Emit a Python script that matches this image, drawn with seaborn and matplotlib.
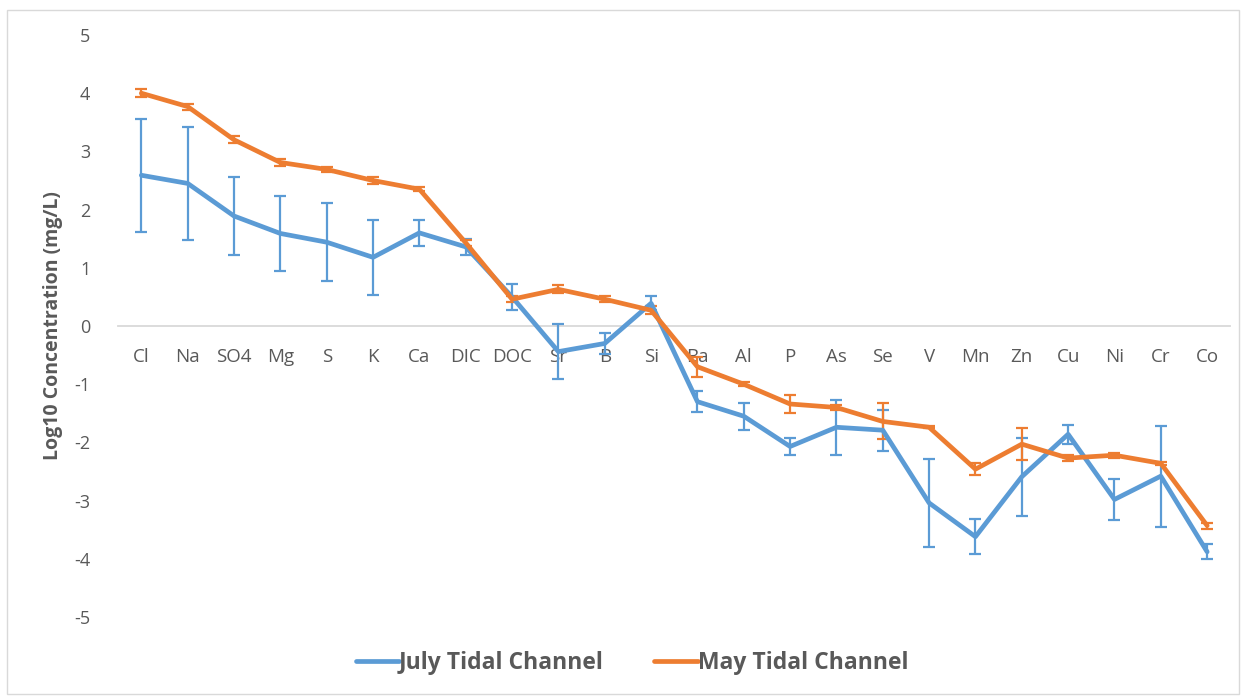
import numpy as np
import pandas as pd
import matplotlib
matplotlib.use("Agg")
import matplotlib.pyplot as plt
import seaborn as sns

# Analytes in order of decreasing concentration
elements = ["Cl", "Na", "SO4", "Mg", "S", "K", "Ca", "DIC", "DOC", "Sr", "B", "Si",
            "Ba", "Al", "P", "As", "Se", "V", "Mn", "Zn", "Cu", "Ni", "Cr", "Co"]

# Log10 mean concentrations (mg/L) and error-bar half widths
july_mean = [2.59, 2.45, 1.89, 1.59, 1.44, 1.18, 1.60, 1.36, 0.50, -0.44, -0.30, 0.39,
             -1.30, -1.55, -2.07, -1.74, -1.79, -3.04, -3.62, -2.59, -1.86, -2.98, -2.58, -3.88]
july_err = [0.97, 0.97, 0.67, 0.65, 0.67, 0.64, 0.22, 0.14, 0.22, 0.47, 0.18, 0.12,
            0.18, 0.23, 0.15, 0.47, 0.35, 0.76, 0.30, 0.67, 0.16, 0.35, 0.87, 0.13]
may_mean = [4.00, 3.77, 3.20, 2.81, 2.69, 2.50, 2.35, 1.43, 0.46, 0.63, 0.46, 0.27,
            -0.70, -1.00, -1.34, -1.40, -1.64, -1.74, -2.46, -2.03, -2.27, -2.22, -2.36, -3.43]
may_err = [0.07, 0.05, 0.06, 0.06, 0.05, 0.06, 0.03, 0.05, 0.05, 0.07, 0.05, 0.07,
           0.17, 0.03, 0.16, 0.05, 0.31, 0.02, 0.10, 0.27, 0.05, 0.04, 0.02, 0.05]

series_names = ["July Tidal Channel", "May Tidal Channel"]
colors = {"July Tidal Channel": "#5B9BD5", "May Tidal Channel": "#ED7D31"}

pos = np.arange(len(elements))
df = pd.concat([
    pd.DataFrame({"pos": pos, "value": july_mean, "err": july_err, "series": series_names[0]}),
    pd.DataFrame({"pos": pos, "value": may_mean, "err": may_err, "series": series_names[1]}),
], ignore_index=True)

sns.set_theme(style="white")
plt.rcParams["font.family"] = ["Open Sans", "DejaVu Sans"]
plt.rcParams["axes.unicode_minus"] = False

fig = plt.figure(figsize=(12.44, 6.96), dpi=100)
ax = fig.add_axes([0.095, 0.1135, 0.894, 0.8362])

# Error bars first so the lines sit on top
for name in series_names:
    sub = df[df["series"] == name]
    ax.errorbar(sub["pos"], sub["value"], yerr=sub["err"], fmt="none",
                ecolor=colors[name], elinewidth=1.6, capsize=4, capthick=1.6, zorder=2)

sns.lineplot(data=df, x="pos", y="value", hue="series", palette=colors,
             linewidth=3.4, sort=False, ax=ax, zorder=3)

ax.set_xlim(-0.5, len(elements) - 0.5)
ax.set_ylim(-5, 5)
ax.set_yticks(range(-5, 6))
ax.set_xticks(pos)
ax.set_xticklabels(elements)

for side in ["top", "right", "left"]:
    ax.spines[side].set_visible(False)
ax.spines["bottom"].set_position(("data", 0))
ax.spines["bottom"].set_color("#D9D9D9")
ax.spines["bottom"].set_linewidth(1.3)
ax.spines["bottom"].set_zorder(1)

ax.tick_params(axis="x", length=0, pad=16, labelsize=13.5, labelcolor="#595959")
ax.tick_params(axis="y", length=0, pad=20, labelsize=13, labelcolor="#595959")

ax.set_xlabel("")
ax.set_ylabel("Log10 Concentration (mg/L)", fontsize=14, fontweight="bold",
              color="#595959", labelpad=8)

handles, labels = ax.get_legend_handles_labels()
ax.legend(handles, labels, loc="center", bbox_to_anchor=(0.508, 0.047),
          bbox_transform=fig.transFigure, ncol=2, frameon=False,
          handlelength=1.9, handletextpad=0.0, columnspacing=2.2,
          prop={"size": 16.5, "weight": "bold"}, labelcolor="#595959")

# Light chart-area border
fig.patches.append(plt.Rectangle((0.006, 0.003), 0.99, 0.983, transform=fig.transFigure,
                                 fill=False, edgecolor="#D9D9D9", linewidth=1.0))

fig.savefig("out.png", dpi=100, facecolor="white")
